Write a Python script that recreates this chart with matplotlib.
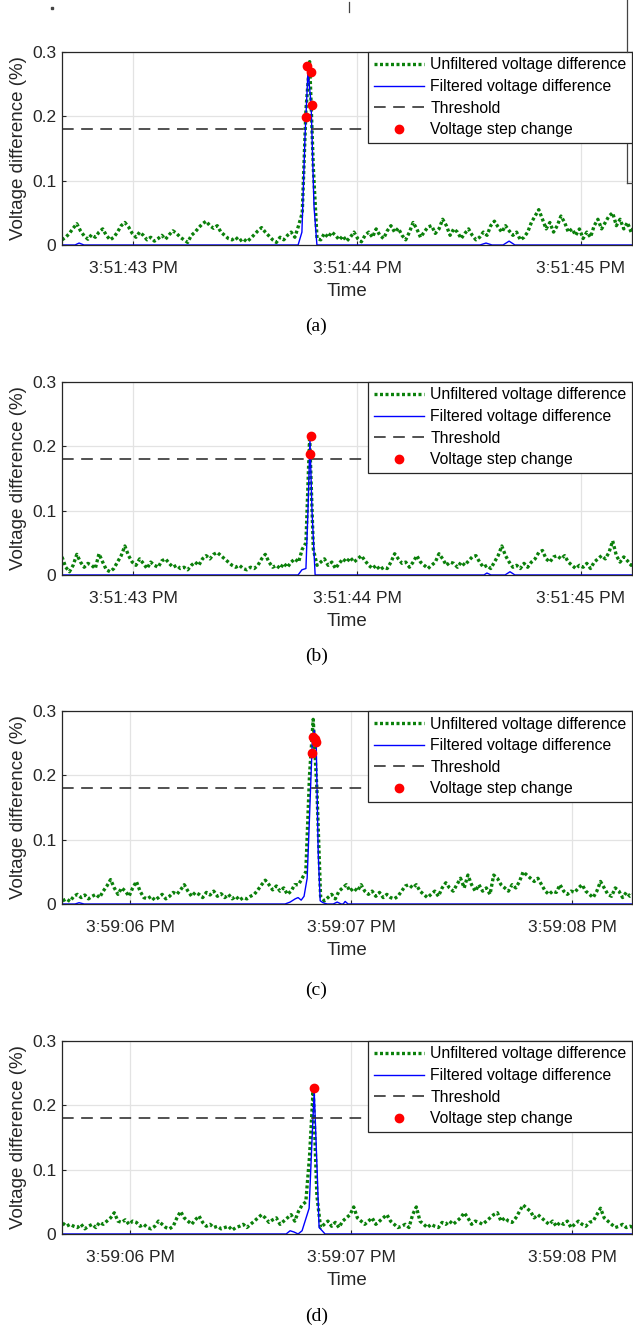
import matplotlib
matplotlib.use('Agg')
import matplotlib.pyplot as plt
from matplotlib.lines import Line2D
import numpy as np

plt.rcParams['font.family'] = ['Liberation Sans', 'DejaVu Sans']

# (a)
t0_a = 42.683
dt_a = 0.0165
unf_a = [0.008, 0.012, 0.018, 0.026, 0.033, 0.022, 0.014, 0.009, 0.016, 0.012,
         0.02, 0.025, 0.015, 0.008, 0.012, 0.02, 0.03, 0.035, 0.028, 0.018,
         0.012, 0.02, 0.015, 0.008, 0.012, 0.006, 0.01, 0.015, 0.009, 0.016,
         0.022, 0.018, 0.012, 0.008, 0.004, 0.015, 0.02, 0.027, 0.033, 0.037,
         0.03, 0.026, 0.03, 0.02, 0.015, 0.01, 0.008, 0.012, 0.006, 0.01,
         0.005, 0.01, 0.016, 0.022, 0.027, 0.02, 0.014, 0.008, 0.004, 0.012,
         0.008, 0.015, 0.02, 0.012, 0.03, 0.05, 0.21, 0.285, 0.12, 0.01,
         0.008, 0.018, 0.012, 0.02, 0.015, 0.008, 0.014, 0.006, 0.012, 0.02,
         0.01, 0.005, 0.015, 0.02, 0.012, 0.025, 0.015, 0.01, 0.022, 0.03,
         0.02, 0.026, 0.015, 0.008, 0.02, 0.035, 0.025, 0.012, 0.02, 0.028,
         0.03, 0.018, 0.025, 0.04, 0.03, 0.015, 0.025, 0.02, 0.01, 0.018,
         0.025, 0.015, 0.008, 0.012, 0.02, 0.015, 0.03, 0.037, 0.028, 0.02,
         0.03, 0.022, 0.015, 0.02, 0.008, 0.012, 0.02, 0.035, 0.045, 0.055,
         0.04, 0.025, 0.035, 0.02, 0.03, 0.045, 0.035, 0.02, 0.025, 0.015,
         0.025, 0.01, 0.02, 0.012, 0.03, 0.04, 0.025, 0.035, 0.045, 0.05,
         0.03, 0.04, 0.025, 0.035, 0.02, 0.03]
filt_t_a = [42.683, 42.741, 42.759, 42.781, 43.737, 43.754, 43.768, 43.781, 43.795,
            43.808, 43.821, 44.549, 44.576, 44.603, 44.652, 44.679, 44.705, 45.228]
filt_v_a = [0, 0, 0.003, 0, 0, 0.02, 0.17, 0.27, 0.22, 0.06, 0, 0, 0.003, 0, 0, 0.006, 0, 0]
step_t_a = [43.772, 43.778, 43.793, 43.797]
step_v_a = [0.199, 0.278, 0.269, 0.217]
ticks_a = [43, 44, 45]
ticklabels_a = ['3:51:43 PM', '3:51:44 PM', '3:51:45 PM']

# (b)
t0_b = 42.683
dt_b = 0.0165
unf_b = [0.028, 0.012, 0.005, 0.015, 0.032, 0.02, 0.012, 0.018, 0.015, 0.01,
         0.033, 0.02, 0.008, 0.005, 0.01, 0.02, 0.03, 0.045, 0.03, 0.02,
         0.015, 0.025, 0.018, 0.01, 0.02, 0.015, 0.012, 0.022, 0.025, 0.018,
         0.012, 0.015, 0.01, 0.012, 0.008, 0.015, 0.02, 0.015, 0.025, 0.03,
         0.025, 0.032, 0.035, 0.03, 0.025, 0.02, 0.015, 0.012, 0.015, 0.01,
         0.008, 0.012, 0.01, 0.015, 0.025, 0.032, 0.02, 0.012, 0.015, 0.01,
         0.018, 0.012, 0.02, 0.025, 0.02, 0.04, 0.05, 0.215, 0.04, 0.015,
         0.02, 0.025, 0.015, 0.02, 0.01, 0.018, 0.025, 0.02, 0.027, 0.02,
         0.025, 0.03, 0.022, 0.015, 0.01, 0.015, 0.008, 0.012, 0.01, 0.02,
         0.033, 0.025, 0.018, 0.02, 0.012, 0.02, 0.03, 0.02, 0.015, 0.01,
         0.015, 0.02, 0.033, 0.025, 0.015, 0.02, 0.018, 0.012, 0.02, 0.015,
         0.022, 0.028, 0.03, 0.02, 0.012, 0.015, 0.01, 0.02, 0.03, 0.045,
         0.03, 0.02, 0.012, 0.015, 0.01, 0.018, 0.012, 0.02, 0.025, 0.035,
         0.038, 0.025, 0.02, 0.028, 0.03, 0.025, 0.03, 0.02, 0.015, 0.01,
         0.015, 0.012, 0.018, 0.01, 0.02, 0.025, 0.03, 0.025, 0.035, 0.053,
         0.03, 0.02, 0.028, 0.022, 0.015, 0.025]
filt_t_b = [42.683, 43.737, 43.754, 43.772, 43.781, 43.790, 43.799, 43.813,
            44.567, 44.580, 44.598, 44.661, 44.683, 44.705, 45.228]
filt_v_b = [0, 0, 0.008, 0.01, 0.1, 0.21, 0.1, 0, 0, 0.003, 0, 0, 0.005, 0, 0]
step_t_b = [43.790, 43.795]
step_v_b = [0.188, 0.216]
ticks_b = [43, 44, 45]
ticklabels_b = ['3:51:43 PM', '3:51:44 PM', '3:51:45 PM']

# (c)
t0_c = 5.695
dt_c = 1 / 60
unf_c = [0.005, 0.008, 0.004, 0.012, 0.015, 0.01, 0.014, 0.008, 0.012, 0.015,
         0.01, 0.02, 0.028, 0.038, 0.025, 0.015, 0.025, 0.02, 0.012, 0.025,
         0.035, 0.02, 0.01, 0.008, 0.012, 0.006, 0.01, 0.015, 0.008, 0.012,
         0.018, 0.015, 0.022, 0.03, 0.02, 0.012, 0.018, 0.015, 0.01, 0.018,
         0.014, 0.02, 0.012, 0.016, 0.01, 0.015, 0.008, 0.012, 0.006, 0.01,
         0.008, 0.012, 0.015, 0.022, 0.03, 0.037, 0.03, 0.022, 0.028, 0.02,
         0.025, 0.015, 0.02, 0.03, 0.03, 0.04, 0.05, 0.2, 0.287, 0.18,
         0.012, 0.005, 0.01, 0.015, 0.008, 0.02, 0.025, 0.03, 0.02, 0.025,
         0.02, 0.03, 0.02, 0.015, 0.02, 0.012, 0.018, 0.01, 0.015, 0.01,
         0.008, 0.012, 0.02, 0.028, 0.03, 0.025, 0.03, 0.02, 0.015, 0.01,
         0.015, 0.02, 0.012, 0.025, 0.033, 0.025, 0.02, 0.03, 0.04, 0.025,
         0.045, 0.03, 0.02, 0.03, 0.02, 0.025, 0.015, 0.045, 0.04, 0.03,
         0.025, 0.02, 0.03, 0.025, 0.035, 0.05, 0.045, 0.04, 0.035, 0.04,
         0.03, 0.02, 0.015, 0.02, 0.018, 0.03, 0.02, 0.015, 0.02, 0.018,
         0.025, 0.03, 0.02, 0.015, 0.01, 0.02, 0.035, 0.025, 0.015, 0.012,
         0.025, 0.02, 0.01, 0.018, 0.012, 0.015]
filt_t_c = [5.692, 5.751, 5.769, 5.792, 6.701, 6.724, 6.747, 6.760, 6.774, 6.787,
            6.801, 6.810, 6.824, 6.833, 6.842, 6.851, 6.860, 6.873, 6.891, 6.919,
            6.937, 6.955, 6.964, 6.973, 6.986, 8.271]
filt_v_c = [0, 0, 0.002, 0, 0, 0.003, 0.008, 0.01, 0.006, 0.012, 0.04, 0.12, 0.25,
            0.27, 0.25, 0.08, 0.005, 0.002, 0, 0, 0.003, 0, 0, 0.004, 0, 0]
step_t_c = [6.821, 6.828, 6.835, 6.842]
step_v_c = [0.234, 0.26, 0.257, 0.252]
ticks_c = [6, 7, 8]
ticklabels_c = ['3:59:06 PM', '3:59:07 PM', '3:59:08 PM']

# (d)
t0_d = 5.695
dt_d = 1 / 60
unf_d = [0.017, 0.012, 0.015, 0.012, 0.01, 0.015, 0.008, 0.012, 0.015, 0.01,
         0.018, 0.015, 0.02, 0.025, 0.033, 0.02, 0.018, 0.022, 0.015, 0.02,
         0.018, 0.012, 0.015, 0.01, 0.008, 0.012, 0.02, 0.015, 0.01, 0.008,
         0.012, 0.025, 0.035, 0.025, 0.02, 0.015, 0.022, 0.028, 0.018, 0.012,
         0.015, 0.01, 0.012, 0.008, 0.01, 0.012, 0.006, 0.01, 0.012, 0.015,
         0.01, 0.015, 0.02, 0.025, 0.03, 0.025, 0.018, 0.022, 0.025, 0.015,
         0.02, 0.025, 0.03, 0.02, 0.035, 0.045, 0.05, 0.12, 0.226, 0.06,
         0.01, 0.015, 0.02, 0.012, 0.018, 0.01, 0.02, 0.025, 0.03, 0.042,
         0.025, 0.02, 0.015, 0.02, 0.025, 0.015, 0.02, 0.025, 0.03, 0.02,
         0.015, 0.01, 0.012, 0.015, 0.01, 0.03, 0.042, 0.02, 0.015, 0.01,
         0.015, 0.012, 0.01, 0.018, 0.015, 0.02, 0.015, 0.02, 0.025, 0.033,
         0.025, 0.015, 0.02, 0.018, 0.015, 0.02, 0.025, 0.03, 0.033, 0.02,
         0.025, 0.02, 0.018, 0.025, 0.035, 0.045, 0.04, 0.035, 0.025, 0.03,
         0.025, 0.02, 0.015, 0.02, 0.012, 0.018, 0.015, 0.02, 0.01, 0.015,
         0.02, 0.015, 0.012, 0.018, 0.02, 0.03, 0.04, 0.025, 0.02, 0.015,
         0.01, 0.012, 0.015, 0.01, 0.012, 0.01]
filt_t_d = [5.692, 6.706, 6.724, 6.742, 6.760, 6.778, 6.810, 6.8235, 6.833,
            6.846, 6.855, 6.869, 6.882, 8.271]
filt_v_d = [0, 0, 0.005, 0.003, 0, 0.005, 0.04, 0.15, 0.222, 0.1, 0.01, 0.005, 0, 0]
step_t_d = [6.830]
step_v_d = [0.227]
ticks_d = [6, 7, 8]
ticklabels_d = ['3:59:06 PM', '3:59:07 PM', '3:59:08 PM']

threshold = 0.18
yticks = [0, 0.1, 0.2, 0.3]
yticklabels = ['0', '0.1', '0.2', '0.3']

panels = [
    (t0_a, dt_a, unf_a, filt_t_a, filt_v_a, step_t_a, step_v_a, ticks_a, ticklabels_a, '(a)', (-0.317, 2.228)),
    (t0_b, dt_b, unf_b, filt_t_b, filt_v_b, step_t_b, step_v_b, ticks_b, ticklabels_b, '(b)', (-0.317, 2.228)),
    (t0_c, dt_c, unf_c, filt_t_c, filt_v_c, step_t_c, step_v_c, ticks_c, ticklabels_c, '(c)', (-0.308, 2.271)),
    (t0_d, dt_d, unf_d, filt_t_d, filt_v_d, step_t_d, step_v_d, ticks_d, ticklabels_d, '(d)', (-0.308, 2.271)),
]

fig = plt.figure(figsize=(6.33, 13.30), dpi=100)
bottoms = [0.8158, 0.5677, 0.3203, 0.0722]
caption_y = [0.7549, 0.5068, 0.2556, 0.0105]

for (t0, dt, unf, ft, fv, st, sv, xt, xtl, cap, lim), b, cy in zip(panels, bottoms, caption_y):
    ax = fig.add_axes([0.098, b, 0.9005, 0.1451])
    t = t0 + np.arange(len(unf)) * dt
    ax.plot(t, unf, color='#0a800a', lw=2.4, linestyle=(0, (0.9, 0.75)),
            dash_capstyle='butt', label='Unfiltered voltage difference')
    ax.plot(ft, fv, color='#0000ff', lw=1.0, label='Filtered voltage difference')
    ax.axhline(threshold, color='#333333', lw=1.2, dashes=(7, 4.5), label='Threshold')
    ax.plot(st, sv, 'o', color='#ff0000', ms=6, mec='#ff0000', lw=0,
            label='Voltage step change', zorder=5)
    ax.set_xlim(xt[0] + lim[0], xt[0] + lim[1])
    ax.set_ylim(0, 0.3)
    ax.set_xticks(xt)
    ax.set_xticklabels(xtl)
    ax.set_yticks(yticks)
    ax.set_yticklabels(yticklabels)
    ax.tick_params(direction='in', length=3, labelsize=12.5, colors='#262626', pad=11.5)
    ax.tick_params(axis='y', pad=4)
    ax.grid(True, color='#e3e3e3', lw=0.9)
    ax.set_axisbelow(True)
    for s in ax.spines.values():
        s.set_color('#262626')
        s.set_linewidth(0.9)
    ax.set_xlabel('Time', fontsize=13.5, color='#262626', labelpad=5)
    ax.set_ylabel('Voltage difference (%)', fontsize=13.5, color='#262626', labelpad=4)
    leg = ax.legend(loc='upper right', borderaxespad=0, fontsize=11.3, handlelength=3.2,
                    handletextpad=0.4, labelspacing=0.42, borderpad=0.35,
                    fancybox=False, framealpha=1)
    leg.get_frame().set_edgecolor('#262626')
    leg.get_frame().set_linewidth(0.9)
    fig.text(0.5, cy, cap, ha='center', va='center', fontsize=14,
             family='Liberation Serif')

# stray marks left over along the top edge of the source page
fig.add_artist(Line2D([0.9905, 0.9905], [1.0, 0.961], color='#444444', lw=0.9))
fig.add_artist(Line2D([0.9905, 0.9905], [0.892, 0.8624], color='#444444', lw=0.9))
fig.add_artist(Line2D([0.9905, 1.0], [0.8624, 0.8624], color='#444444', lw=0.9))
fig.add_artist(Line2D([0.5513, 0.5513], [0.9985, 0.991], color='#444444', lw=0.9))
fig.add_artist(Line2D([0.0821], [0.994], marker='s', ms=1.5, color='#444444', lw=0))

fig.savefig('out.png', dpi=100)
